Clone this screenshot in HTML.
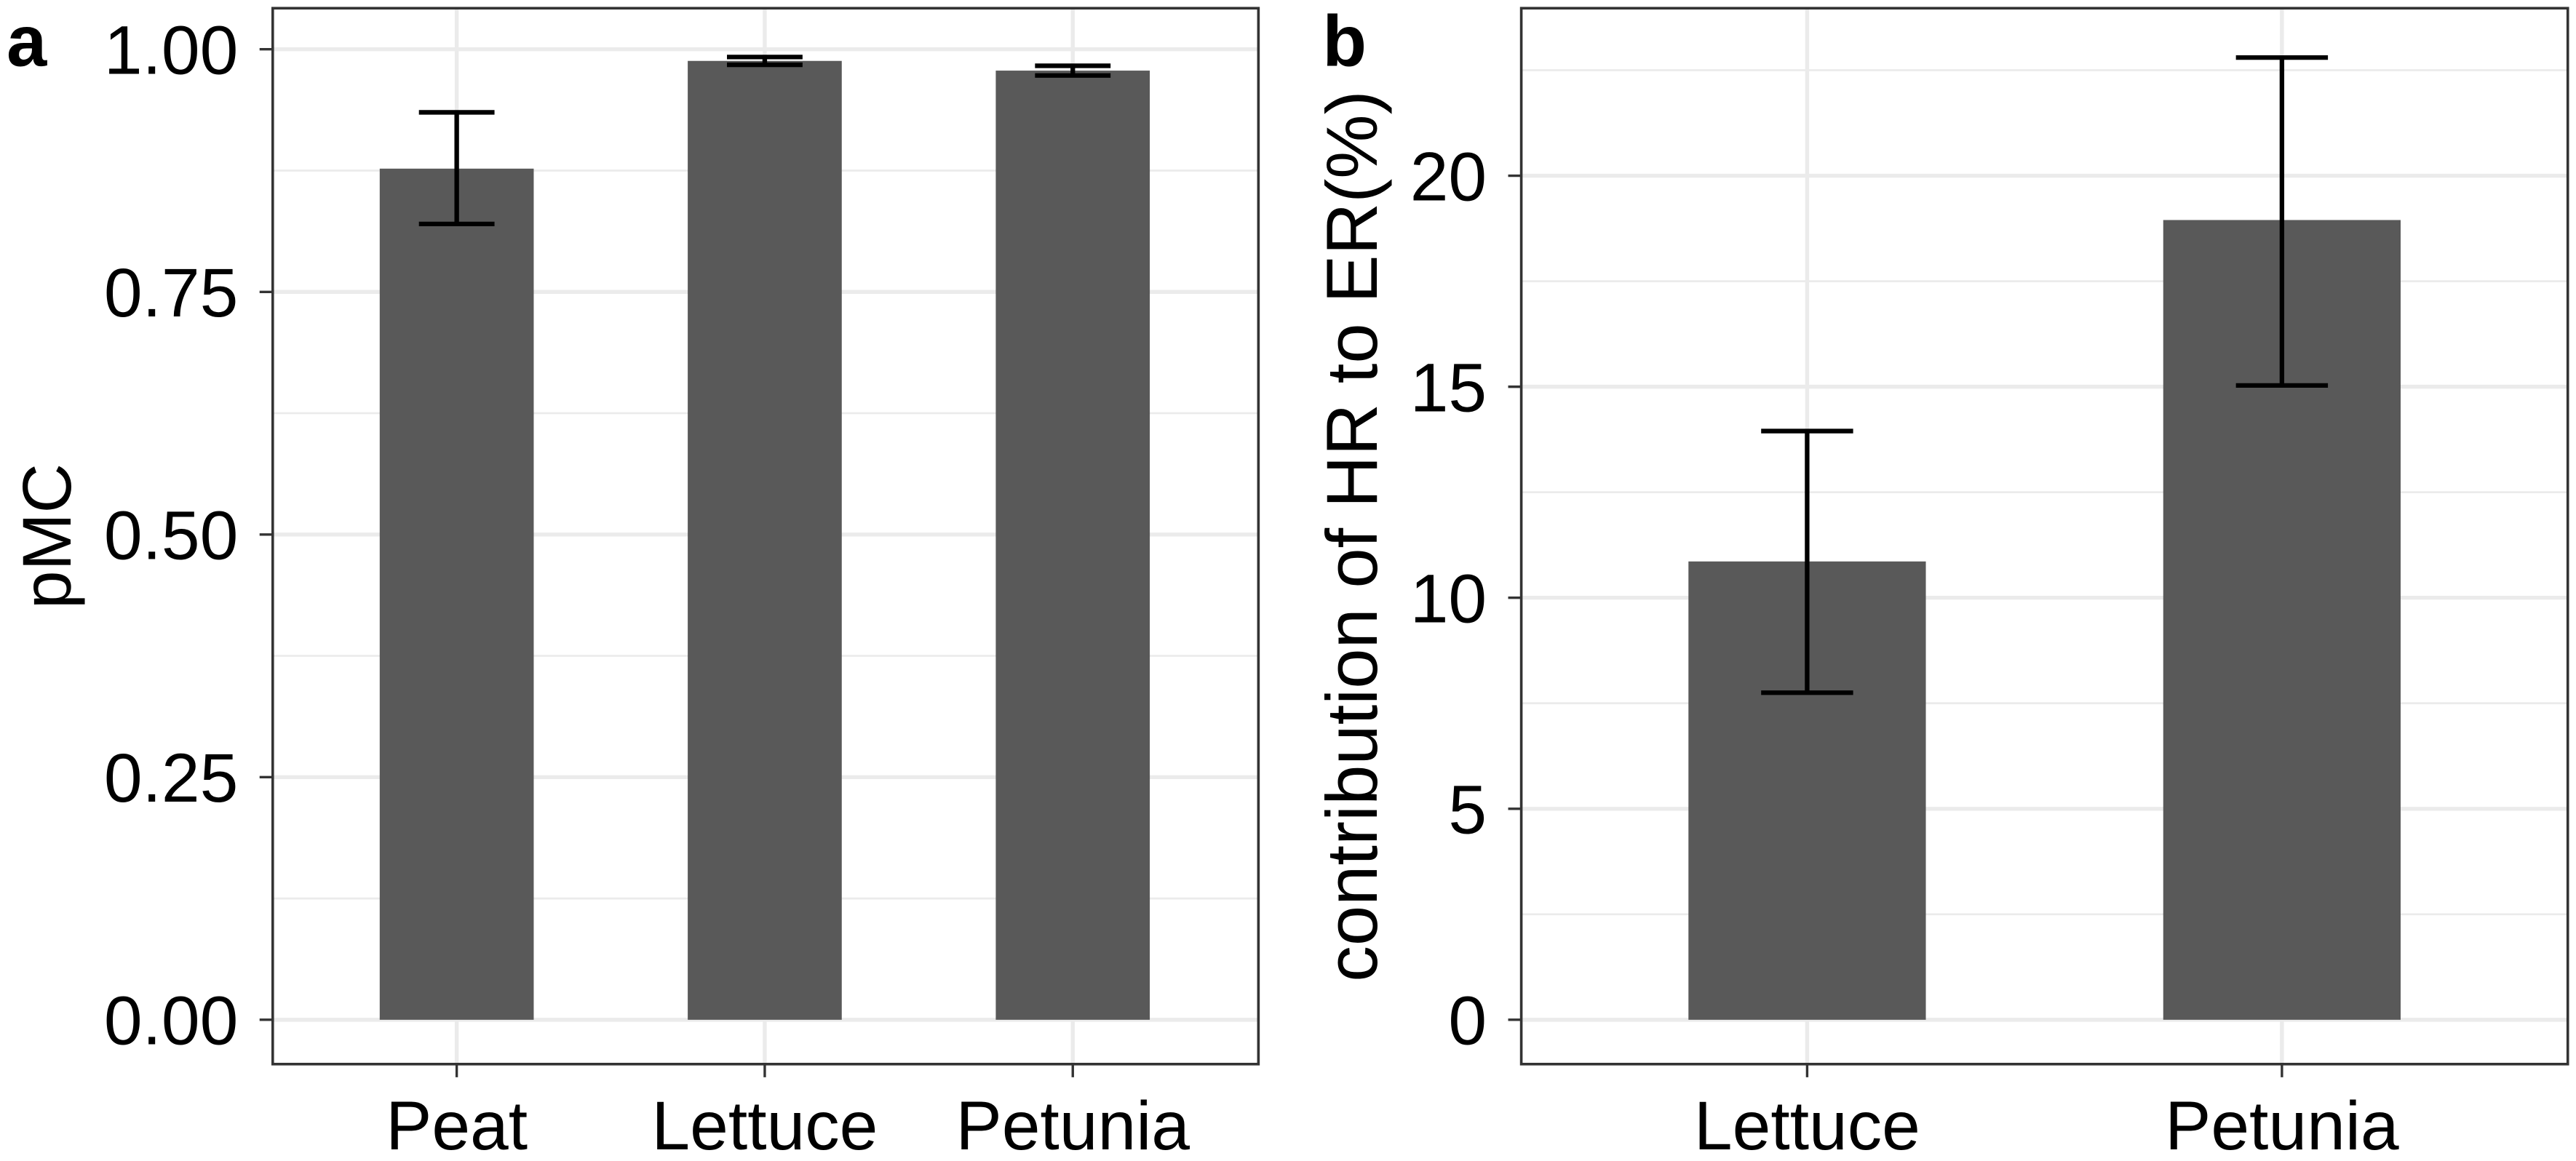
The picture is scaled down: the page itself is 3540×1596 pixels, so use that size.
<!DOCTYPE html>
<html><head><meta charset="utf-8"><style>
html,body{margin:0;padding:0;background:#fff;}
svg{display:block;}
text{font-family:"Liberation Sans",Arial,sans-serif;fill:#000;}
</style></head><body>
<svg id="chart" width="3540" height="1596" viewBox="0 0 1568 707" preserveAspectRatio="none" xmlns="http://www.w3.org/2000/svg"></svg>
<script>
const catsA = ["Peat","Lettuce","Petunia"];
const valsA = [0.877, 0.988, 0.978];
const loA = [0.820, 0.984, 0.973];
const hiA = [0.935, 0.992, 0.983];
const ticksA = [0, 0.25, 0.5, 0.75, 1.0];
const tickLabelsA = ["0.00","0.25","0.50","0.75","1.00"];

const catsB = ["Lettuce","Petunia"];
const valsB = [10.86, 18.95];
const loB = [7.75, 15.03];
const hiB = [13.95, 22.8];
const ticksB = [0,5,10,15,20];
const tickLabelsB = ["0","5","10","15","20"];

const NS="http://www.w3.org/2000/svg";
const svg=document.getElementById('chart');
function mk(tag,attrs,parent){const e=document.createElementNS(NS,tag);for(const k in attrs)e.setAttribute(k,attrs[k]);(parent||svg).appendChild(e);return e;}

function panel(cfg){
  const g=mk('g',{});
  
  
  const y=v=>cfg.y0-(v-cfg.vmin)*cfg.pxPer;
  const x=i=>cfg.c0+cfg.unit*i;
  for(let i=0;i<cfg.ticks.length;i++){
    const m=cfg.ticks[i]+(cfg.ticks[1]-cfg.ticks[0])/2;
    if(y(m)<=cfg.yt) continue;
    const l=mk('line',{x1:cfg.x0,x2:cfg.x1,y1:y(m),y2:y(m),stroke:'#ebebeb','stroke-width':1.2},g);
    
  }
  cfg.ticks.forEach((t,i)=>{
    const l=mk('line',{x1:cfg.x0,x2:cfg.x1,y1:y(t),y2:y(t),stroke:'#ebebeb','stroke-width':2.4},g);
    
    const tk=mk('line',{x1:cfg.x0-8,x2:cfg.x0,y1:y(t),y2:y(t),stroke:'#333','stroke-width':1.5},g);
    
    const tl=mk('text',{x:cfg.x0-21,y:y(t)+15,'text-anchor':'end','font-size':42},g);
    tl.textContent=cfg.tickLabels[i];
    
  });
  cfg.cats.forEach((c,i)=>{
    const l=mk('line',{x1:x(i),x2:x(i),y1:cfg.yt,y2:cfg.yb,stroke:'#ebebeb','stroke-width':2.4},g);
    
  });
  cfg.cats.forEach((c,i)=>{
    const bw=cfg.unit*cfg.bw;
    const r=mk('rect',{x:x(i)-bw/2,y:y(cfg.vals[i]),width:bw,height:y(0)-y(cfg.vals[i]),fill:'#595959'},g);
    
    const e=mk('path',{d:`M${x(i)-cfg.cap},${y(cfg.hi[i])}H${x(i)+cfg.cap}M${x(i)},${y(cfg.hi[i])}V${y(cfg.lo[i])}M${x(i)-cfg.cap},${y(cfg.lo[i])}H${x(i)+cfg.cap}`,stroke:'#000','stroke-width':2.8,fill:'none'},g);
    
    const tk=mk('line',{x1:x(i),x2:x(i),y1:cfg.yb,y2:cfg.yb+8,stroke:'#333','stroke-width':1.5},g);
    
    const tl=mk('text',{x:x(i),y:cfg.yb+52,'text-anchor':'middle','font-size':42},g);
    tl.textContent=c;
  });
  const b=mk('rect',{x:cfg.x0,y:cfg.yt,width:cfg.x1-cfg.x0,height:cfg.yb-cfg.yt,fill:'none',stroke:'#333','stroke-width':1.6},g);
  
  const at=mk('text',{x:0,y:0,'text-anchor':'middle','font-size':cfg.titleSize,transform:`translate(${cfg.titleX},${(cfg.yt+cfg.yb)/2}) rotate(-90)`},g);
  at.textContent=cfg.title;
  const pl=mk('text',{x:cfg.labX,y:40,'font-size':44,'font-weight':'bold'},g);
  pl.textContent=cfg.label;
}
panel({name:'panel-a',cats:catsA,vals:valsA,lo:loA,hi:hiA,ticks:ticksA,tickLabels:tickLabelsA,
  x0:166,x1:766,yt:5,yb:648,y0:621,vmin:0,pxPer:591,c0:278,unit:187.5,bw:0.5,cap:23,title:'pMC',titleSize:42,titleX:43,label:'a',labX:4});
panel({name:'panel-b',cats:catsB,vals:valsB,lo:loB,hi:hiB,ticks:ticksB,tickLabels:tickLabelsB,
  x0:926,x1:1563,yt:5,yb:648,y0:621,vmin:0,pxPer:25.7,c0:1100,unit:289,bw:0.5,cap:28,title:'contribution of HR to ER(%)',titleSize:44,titleX:838,label:'b',labX:805});
</script>
</body></html>
